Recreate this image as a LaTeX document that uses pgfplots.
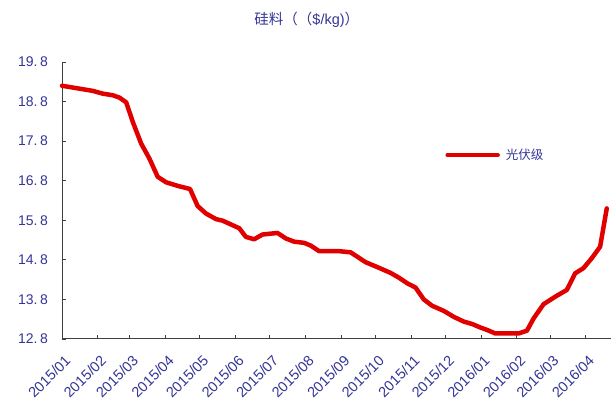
\documentclass[border=0pt]{standalone}
\usepackage{pgfplots}
\pgfplotsset{compat=1.18}
\usepackage{fontspec}
\setmainfont{Liberation Sans}
\newfontfamily\cjk{Noto Sans CJK SC}
\definecolor{lblblue}{RGB}{52,52,150}
\definecolor{pvred}{RGB}{224,0,0}
\definecolor{axgray}{RGB}{64,64,64}

% Polysilicon spot price, x = days since 2015-01-01
\pgfplotstableread{
day price
0     19.20
26.8  19.07
35.5  19.00
44.2  18.96
50.0  18.90
55.9  18.78
61.6  18.29
68.9  17.74
76.1  17.36
83.3  16.90
90.6  16.76
100.7 16.67
111.5 16.59
118.1 16.16
125.4 15.97
134.1 15.83
139.8 15.79
154.3 15.60
160.1 15.38
167.3 15.32
174.5 15.44
187.6 15.48
194.9 15.34
202.1 15.26
210.8 15.23
216.6 15.16
223.8 15.02
241.2 15.02
251.3 14.99
264.4 14.74
275.9 14.60
286.1 14.47
293.3 14.35
300.5 14.21
307.8 14.10
315.0 13.80
322.2 13.64
332.4 13.51
341.1 13.36
349.8 13.24
357.0 13.18
364.3 13.09
370.0 13.03
377.3 12.94
397.6 12.94
404.8 13.01
410.6 13.32
419.3 13.68
429.5 13.87
439.5 14.04
446.8 14.46
454.0 14.59
461.2 14.84
468.5 15.13
474.3 16.10
}\pricedata

\begin{document}
\begin{tikzpicture}[x=1pt,y=1pt]
\begin{axis}[
  name=ax,
  scale only axis,
  width=549pt, height=277pt,
  xmin=0, xmax=478,
  ymin=12.8, ymax=19.8,
  axis x line=bottom, axis y line=left,
  axis line style={-, axgray, line width=1pt},
  tick align=inside,
  major tick length=4pt,
  tick style={axgray, line width=0.8pt},
  xtick={0,31,59,90,120,151,181,212,243,273,304,334,365,396,425,456},
  xticklabels={2015/01,2015/02,2015/03,2015/04,2015/05,2015/06,2015/07,2015/08,2015/09,2015/10,2015/11,2015/12,2016/01,2016/02,2016/03,2016/04},
  ytick={12.8,13.8,14.8,15.8,16.8,17.8,18.8,19.8},
  yticklabels={12.\hspace{2.5pt}8,13.\hspace{2.5pt}8,14.\hspace{2.5pt}8,15.\hspace{2.5pt}8,16.\hspace{2.5pt}8,17.\hspace{2.5pt}8,18.\hspace{2.5pt}8,19.\hspace{2.5pt}8},
  xticklabel style={xshift=2pt, yshift=-15pt, rotate=45, anchor=north east, font=\fontsize{14.5}{15}\selectfont, text=lblblue, inner sep=0pt},
  yticklabel style={font=\fontsize{14}{15}\selectfont, text=lblblue, xshift=-14pt, inner sep=0pt},
  legend style={at={(rel axis cs:0.698,0.664)}, anchor=west, draw=none, fill=none, inner sep=0pt,
    font=\cjk\fontsize{12.5}{13}\selectfont, text=lblblue},
  legend image code/.code={\draw[pvred, line width=4.5pt, line cap=round] (0pt,0pt) -- (50pt,0pt);},
  legend cell align=left,
  clip=false,
]
\addplot[pvred, line width=4.5pt, line join=round, line cap=round] table[x=day, y=price] {\pricedata};
\addlegendentry{\hspace{4pt}光伏级}
\node[text=lblblue, font=\fontsize{14.5}{15}\selectfont] at (rel axis cs:0.446,1) [yshift=42pt]
  {{\cjk 硅料（（}\$/kg){\cjk ）}};
\end{axis}
\pgfresetboundingbox
\path[use as bounding box] ([shift={(-62pt,-61pt)}]ax.south west) rectangle ([shift={(0pt,62pt)}]ax.north east);
\end{tikzpicture}
\end{document}
